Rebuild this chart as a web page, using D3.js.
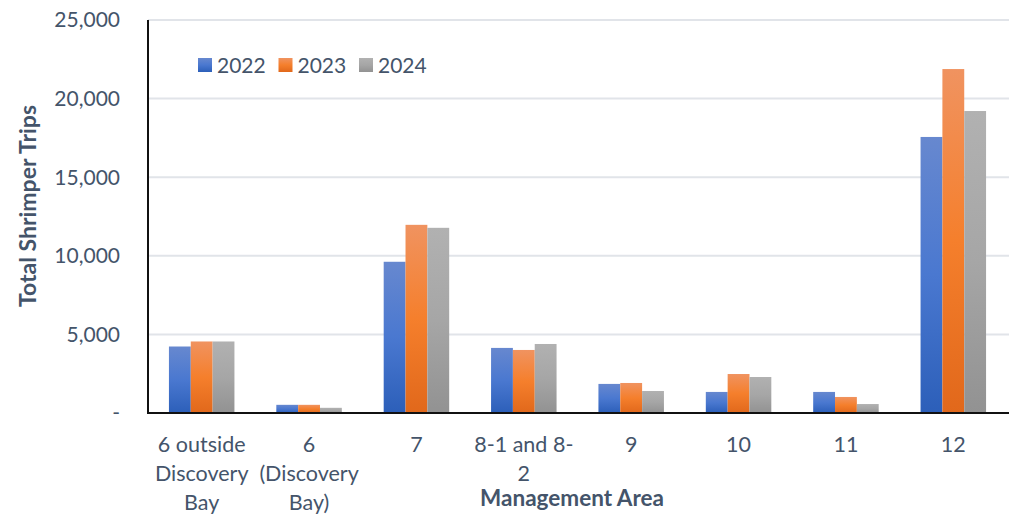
<!DOCTYPE html>
<html>
<head>
<meta charset="utf-8">
<script src="https://cdn.jsdelivr.net/npm/d3@7"></script>
<style>
  body { margin: 0; background: #fff; }
  text { font-family: Lato, "Open Sans", sans-serif; fill: #44546a; }
</style>
</head>
<body>
<svg id="chart" width="1012" height="520"></svg>
<script>
// data
var areas = [
    ["6 outside", "Discovery", "Bay"],
    ["6", "(Discovery", "Bay)"],
    ["7"],
    ["8-1 and 8-", "2"],
    ["9"],
    ["10"],
    ["11"],
    ["12"]
];
var years = ["2022", "2023", "2024"];
var trips2022 = [4230, 520, 9620, 4140, 1850, 1340, 1340, 17560];
var trips2023 = [4550, 520, 11970, 4010, 1910, 2480, 1020, 21880];
var trips2024 = [4550, 330, 11780, 4390, 1400, 2290, 570, 19210];
var yTicks = [0, 5000, 10000, 15000, 20000, 25000];

var series = [trips2022, trips2023, trips2024];
var grads = [
    ["#6788cf", "#4a78d0", "#2c5fb9"],
    ["#f09360", "#f57f2c", "#e1681b"],
    ["#b1b1b1", "#a6a6a6", "#929292"]
];

var svg = d3.select("#chart"),
    pLeft = 148, pRight = 1007, pTop = 20, pBottom = 413;

var x = d3.scaleBand()
    .domain(d3.range(areas.length))
    .range([pLeft, pRight])
    .paddingInner(0.39)
    .paddingOuter(0.195);
var xs = d3.scaleBand().domain(d3.range(years.length)).range([0, x.bandwidth()]);
var y = d3.scaleLinear().domain([0, 25000]).range([pBottom, pTop]);

// gradients
var defs = svg.append("defs");
grads.forEach(function (g, i) {
    var lg = defs.append("linearGradient")
        .attr("id", "g" + i)
        .attr("x1", 0).attr("y1", 0).attr("x2", 0).attr("y2", 1);
    lg.append("stop").attr("offset", "0%").attr("stop-color", g[0]);
    lg.append("stop").attr("offset", "50%").attr("stop-color", g[1]);
    lg.append("stop").attr("offset", "100%").attr("stop-color", g[2]);
});

// gridlines
svg.append("g")
    .selectAll("line")
    .data(yTicks.slice(1))
    .join("line")
    .attr("x1", pLeft).attr("x2", pRight + 2)
    .attr("y1", function (d) { return y(d); })
    .attr("y2", function (d) { return y(d); })
    .attr("stroke", "#e1e4e9")
    .attr("stroke-width", 2);

// y tick labels
svg.append("g")
    .selectAll("text")
    .data(yTicks)
    .join("text")
    .attr("x", 120)
    .attr("y", function (d) { return y(d); })
    .attr("dy", "0.35em")
    .attr("text-anchor", "end")
    .attr("font-size", 21)
    .text(function (d) { return d === 0 ? "-" : d3.format(",")(d); });

// bars
series.forEach(function (vals, s) {
    svg.append("g")
        .selectAll("rect")
        .data(vals)
        .join("rect")
        .attr("x", function (d, i) { return x(i) + xs(s); })
        .attr("width", xs.bandwidth())
        .attr("y", function (d) { return y(d); })
        .attr("height", function (d) { return pBottom - y(d); })
        .attr("fill", "url(#g" + s + ")");
});

// axes lines
svg.append("line")
    .attr("x1", pLeft).attr("x2", pLeft)
    .attr("y1", pTop).attr("y2", pBottom + 1)
    .attr("stroke", "#111").attr("stroke-width", 2);
svg.append("line")
    .attr("x1", pLeft - 1).attr("x2", pRight + 2)
    .attr("y1", pBottom).attr("y2", pBottom)
    .attr("stroke", "#111").attr("stroke-width", 2.2);

// x labels
var xl = svg.append("g")
    .selectAll("text")
    .data(areas)
    .join("text")
    .attr("text-anchor", "middle")
    .attr("font-size", 21.5)
    .attr("x", function (d, i) { return x(i) + x.bandwidth() / 2; })
    .attr("y", 452);
xl.selectAll("tspan")
    .data(function (d) { return d; })
    .join("tspan")
    .attr("x", function () { return d3.select(this.parentNode).attr("x"); })
    .attr("dy", function (d, i) { return i === 0 ? 0 : 29; })
    .text(function (d) { return d; });

// axis titles
svg.append("text")
    .attr("x", 572).attr("y", 506)
    .attr("text-anchor", "middle")
    .attr("font-size", 22.5)
    .attr("font-weight", "bold")
    .text("Management Area");
svg.append("text")
    .attr("transform", "translate(36,206) rotate(-90)")
    .attr("text-anchor", "middle")
    .attr("font-size", 23)
    .attr("font-weight", "bold")
    .text("Total Shrimper Trips");

// legend
var lg = svg.append("g")
    .selectAll("g")
    .data(years)
    .join("g")
    .attr("transform", function (d, i) { return "translate(" + (198 + i * 80.5) + ",58)"; });
lg.append("rect")
    .attr("width", 14).attr("height", 14)
    .attr("fill", function (d, i) { return "url(#g" + i + ")"; });
lg.append("text")
    .attr("x", 19).attr("y", 7)
    .attr("dy", "0.36em")
    .attr("font-size", 21)
    .text(function (d) { return d; });
</script>
</body>
</html>
